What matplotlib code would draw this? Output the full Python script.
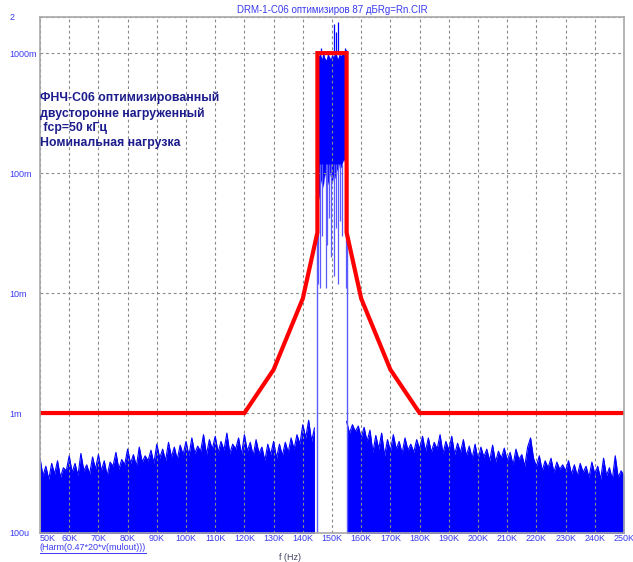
import matplotlib
matplotlib.use("Agg")
import matplotlib.pyplot as plt
import numpy as np
from matplotlib.lines import Line2D

# spectrum below the passband, one value per kHz from 50K to 144K (in mV)
low_start_khz = 50
low_mv = [
    0.42, 0.30, 0.36, 0.28, 0.38, 0.31, 0.40, 0.29, 0.35, 0.33,
    0.44, 0.32, 0.38, 0.30, 0.46, 0.33, 0.37, 0.31, 0.43, 0.34,
    0.45, 0.33, 0.40, 0.30, 0.39, 0.36, 0.47, 0.34, 0.41, 0.37,
    0.50, 0.38, 0.45, 0.36, 0.52, 0.39, 0.44, 0.40, 0.49, 0.38,
    0.55, 0.42, 0.50, 0.40, 0.57, 0.43, 0.52, 0.41, 0.54, 0.45,
    0.58, 0.44, 0.62, 0.46, 0.53, 0.48, 0.66, 0.45, 0.60, 0.50,
    0.64, 0.47, 0.58, 0.49, 0.68, 0.46, 0.55, 0.50, 0.62, 0.45,
    0.66, 0.48, 0.57, 0.44, 0.60, 0.46, 0.52, 0.40, 0.55, 0.45,
    0.58, 0.42, 0.55, 0.44, 0.57, 0.47, 0.62, 0.50, 0.66, 0.55,
    0.80, 0.62, 0.87, 0.58, 0.75,
]

# spectrum above the passband, one value per kHz from 155K to 250K (in mV)
high_start_khz = 155
high_mv = [
    0.85, 0.68, 0.80, 0.70, 0.78,
    0.62, 0.76, 0.58, 0.72, 0.47, 0.65, 0.50, 0.68, 0.44, 0.60,
    0.48, 0.66, 0.50, 0.58, 0.46, 0.62, 0.49, 0.55, 0.47, 0.60,
    0.50, 0.64, 0.48, 0.62, 0.47, 0.57, 0.50, 0.66, 0.46, 0.58,
    0.49, 0.64, 0.45, 0.56, 0.47, 0.60, 0.44, 0.53, 0.42, 0.55,
    0.41, 0.52, 0.43, 0.50, 0.40, 0.54, 0.39, 0.48, 0.42, 0.51,
    0.40, 0.47, 0.37, 0.50, 0.41, 0.45, 0.36, 0.52, 0.62, 0.42,
    0.36, 0.44, 0.33, 0.40, 0.35, 0.42, 0.32, 0.39, 0.34, 0.37,
    0.33, 0.40, 0.31, 0.37, 0.30, 0.38, 0.32, 0.36, 0.29, 0.39,
    0.31, 0.36, 0.28, 0.42, 0.30, 0.35, 0.28, 0.44, 0.29, 0.33, 0.30,
]

# passband 145K..155K every 0.5 kHz: ragged top and solid bottom (in V)
pass_start_khz = 145.0
pass_step_khz = 0.5
pass_top = [1.05, 0.95, 1.00, 0.90, 1.05, 0.92, 0.88, 1.00, 0.95, 0.90, 1.00,
            0.93, 1.05, 0.98, 0.90, 1.00, 0.95, 1.02, 0.97, 1.05, 1.08]
pass_floor = [0.07, 0.06, 0.08, 0.09, 0.075, 0.10, 0.085, 0.08, 0.09, 0.10, 0.08,
              0.095, 0.09, 0.11, 0.10, 0.12, 0.11, 0.12, 0.13, 0.12, 0.11]

# single harmonics sticking above the passband
spike_khz = [146.2, 150.8, 151.4, 152.2, 154.6]
spike_v = [1.10, 1.75, 1.50, 1.80, 1.10]

# single harmonics dipping below the passband
dip_khz = [145.3, 145.9, 146.6, 147.8, 148.4, 149.0, 149.6, 150.7, 151.3, 152.1, 152.7, 153.5, 154.7]
dip_v = [0.012, 0.011, 0.030, 0.011, 0.025, 0.042, 0.020, 0.014, 0.035, 0.012, 0.040, 0.030, 0.011]

# mask (red)
mask_khz = [50, 120, 130, 140, 145, 145, 155, 155, 160, 170, 180, 250]
mask_v = [1e-3, 1e-3, 2.3e-3, 9e-3, 32e-3, 1.0, 1.0, 32e-3, 9e-3, 2.3e-3, 1e-3, 1e-3]

x_ticks = list(range(50, 251, 10))
x_labels = [f"{k}K" for k in x_ticks]
y_ticks = [1e-4, 1e-3, 1e-2, 1e-1, 1.0, 2.0]
y_labels = ["100u", "1m", "10m", "100m", "1000m", "2"]

title = "DRM-1-C06 оптимизиров 87 дБRg=Rn.CIR"
note = "ФНЧ-С06 оптимизированный\nдвусторонне нагруженный\n fср=50 кГц\nНоминальная нагрузка"
expr = "(Harm(0.47*20*v(mulout)))"

plt.rcParams["font.family"] = ["Liberation Sans", "DejaVu Sans"]
plt.rcParams["path.simplify"] = False

W, H = 633, 562
fig = plt.figure(figsize=(W / 100, H / 100), dpi=100)
ax = fig.add_axes([40 / W, (H - 533) / H, 584 / W, (533 - 17) / H])

blue = "#0000ff"
light_blue = "#5a5aff"
label_blue = "#3a3af0"
floor = 1e-5

low_f = low_start_khz + np.arange(len(low_mv))
low_v = np.array(low_mv) * 1e-3
high_f = high_start_khz + np.arange(len(high_mv))
high_v = np.array(high_mv) * 1e-3
pass_f = pass_start_khz + pass_step_khz * np.arange(len(pass_top))

# noise floor
ax.fill_between(low_f, floor, low_v, color=blue, lw=0)
ax.fill_between(high_f, floor, high_v, color=blue, lw=0)
ax.plot(low_f, low_v, color=blue, lw=0.8)
ax.plot(high_f, high_v, color=blue, lw=0.8)

# passband
ax.fill_between(pass_f, pass_floor, pass_top, color=blue, lw=0)
ax.vlines(spike_khz, 1.0, spike_v, color=blue, lw=0.9)
ax.vlines(dip_khz, dip_v, 0.12, color=light_blue, lw=0.9)
ax.vlines([pass_f[0], pass_f[-1]], floor, [pass_floor[0], pass_floor[-1]], color=light_blue, lw=1.0)

ax.plot(mask_khz, mask_v, color="#ff0000", lw=3, solid_joinstyle="miter")

ax.set_yscale("log")
ax.set_xlim(50, 250)
ax.set_ylim(1e-4, 2)
ax.set_xticks(x_ticks)
ax.set_xticklabels(x_labels)
ax.set_yticks(y_ticks)
ax.set_yticklabels(y_labels)
ax.yaxis.set_minor_locator(matplotlib.ticker.NullLocator())
ax.tick_params(length=0, labelsize=6.5, labelcolor=label_blue)
ax.tick_params(axis="y", pad=22)
ax.tick_params(axis="x", pad=1)
for lab in ax.get_yticklabels():
    lab.set_ha("left")
ax.get_xticklabels()[0].set_ha("left")

ax.grid(True, color="#8a8a8a", ls=(0, (2.5, 2.5)), lw=0.8)
for s in ax.spines.values():
    s.set_color("#a8a8a8")
    s.set_linewidth(1.2)

fig.text(332 / W, 1 - 10 / H, title, ha="center", va="center", fontsize=7, color=label_blue)
fig.text(40 / W, 1 - 120.5 / H, note, ha="left", va="center",
         fontsize=8.8, fontweight="bold", color="#1c1c8c", linespacing=1.3)
t = fig.text(40 / W, 1 - 548 / H, expr, ha="left", va="center", fontsize=6.5, color=label_blue)
fig.text(290 / W, 1 - 558 / H, "f (Hz)", ha="center", va="center", fontsize=6.5, color="#404060")

fig.canvas.draw()
bb = t.get_window_extent()
fig.add_artist(Line2D([bb.x0 / W, bb.x1 / W], [(bb.y0 - 0.5) / H] * 2, color=label_blue, lw=0.7))

fig.savefig("out.png", dpi=100)
